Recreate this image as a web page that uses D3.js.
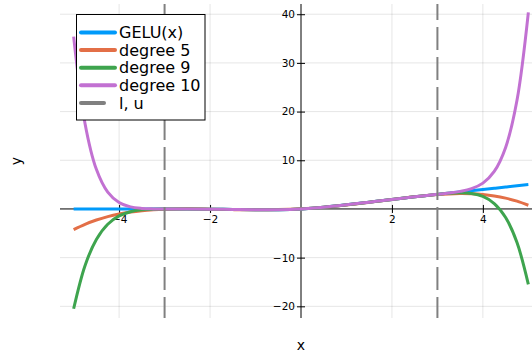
<!DOCTYPE html>
<html>
<head>
<meta charset="utf-8">
<script src="https://cdn.jsdelivr.net/npm/d3@7"></script>
<style>
  html, body { margin: 0; padding: 0; background: #fff; }
  svg { display: block; }
</style>
</head>
<body>
<svg id="chart" width="532" height="356"></svg>
<script>
// ---- data ----
const xValues = [-5,-4.75,-4.5,-4.25,-4,-3.75,-3.5,-3.25,-3,-2.5,-2,-1.5,-1,-0.5,0,
                 0.5,1,1.5,2,2.5,3,3.25,3.5,3.75,4,4.25,4.5,4.75,5];
const geluValues = [0,0,0,-0.0001,-0.0001,-0.0003,-0.0008,-0.0019,-0.0040,-0.0155,-0.0455,-0.1002,-0.1587,-0.1543,0,
                    0.3457,0.8413,1.3998,1.9545,2.4845,2.9960,3.2481,3.4992,3.7497,3.9999,4.25,4.5,4.75,5.0];
const degree5Values = [-4.2355,-3.1513,-2.2732,-1.5766,-1.0379,-0.6350,-0.3472,-0.1550,-0.0404,0.0219,-0.0425,-0.1370,-0.1867,-0.1380,0.0414,
                       0.3620,0.8133,1.3630,1.9575,2.5219,2.9597,3.0950,3.1528,3.1150,2.9621,2.6734,2.2268,1.5987,0.7645];
const degree9Values = [-20.5057,-11.6552,-6.2613,-3.1319,-1.4261,-0.5694,-0.1860,-0.0427,-0.0059,-0.0169,-0.0451,-0.0988,-0.1603,-0.1547,0.0019,
                       0.3453,0.8397,1.4012,1.9549,2.4831,2.9941,3.2073,3.3140,3.1806,2.5739,1.1181,-1.7613,-6.9052,-15.5057];
const degree10Values = [35.3959,17.5719,8.1407,3.4568,1.3088,0.4219,0.1055,0.0148,-0.0037,-0.0152,-0.0458,-0.0999,-0.1588,-0.1545,0.0003,
                        0.3456,0.8412,1.4001,1.9542,2.4848,2.9963,3.2648,3.6055,4.1719,5.3088,7.7068,12.6407,22.3219,40.3959];
const boundValues = [-3, 3];
const seriesNames = ["GELU(x)", "degree 5", "degree 9", "degree 10"];
const boundName = "l, u";
const xTickValues = [-4, -2, 2, 4];
const yTickValues = [-20, -10, 10, 20, 30, 40];
const xDomain = [-5.3, 5.3];
const yDomain = [-22.4, 42.1];

// ---- layout ----
const colors = ["#009AFA", "#E36F47", "#3EA44E", "#C271D2"];
const svg = d3.select("#chart");
const W = 532, H = 356;
const plotLeft = 60, plotRight = 542, plotTop = 4, plotBottom = 318;
const font = "'DejaVu Sans', sans-serif";

const x = d3.scaleLinear().domain(xDomain).range([plotLeft, plotRight]);
const y = d3.scaleLinear().domain(yDomain).range([plotBottom, plotTop]);

svg.append("rect").attr("width", W).attr("height", H).attr("fill", "#fff");

// grid
const grid = svg.append("g");
grid.selectAll("line.gx").data(xTickValues).join("line")
  .attr("x1", d => x(d)).attr("x2", d => x(d))
  .attr("y1", plotTop).attr("y2", plotBottom)
  .attr("stroke", "#000").attr("stroke-opacity", 0.1).attr("stroke-width", 1);
grid.selectAll("line.gy").data(yTickValues).join("line")
  .attr("x1", plotLeft).attr("x2", plotRight)
  .attr("y1", d => y(d)).attr("y2", d => y(d))
  .attr("stroke", "#000").attr("stroke-opacity", 0.1).attr("stroke-width", 1);

// axes through the origin
const xAxisG = svg.append("g").attr("transform", `translate(0,${y(0)})`)
  .call(d3.axisBottom(x).tickValues(xTickValues).tickSize(4).tickPadding(3).tickFormat(d3.format("d")));
const yAxisG = svg.append("g").attr("transform", `translate(${x(0)},0)`)
  .call(d3.axisLeft(y).tickValues(yTickValues).tickSize(4).tickPadding(2).tickFormat(d3.format("d")));
[xAxisG, yAxisG].forEach(g => {
  g.select(".domain").remove();
  g.attr("font-family", font).attr("font-size", 10.5);
  g.selectAll("text").attr("fill", "#000");
  g.selectAll(".tick line").attr("stroke", "#000");
});
xAxisG.selectAll(".tick line").attr("y1", -4).attr("y2", 4);
yAxisG.selectAll(".tick line").attr("x1", -4).attr("x2", 4);

svg.append("line").attr("x1", plotLeft).attr("x2", plotRight)
  .attr("y1", y(0)).attr("y2", y(0)).attr("stroke", "#000").attr("stroke-width", 1);
svg.append("line").attr("x1", x(0)).attr("x2", x(0))
  .attr("y1", plotTop).attr("y2", plotBottom).attr("stroke", "#000").attr("stroke-width", 1);

// curves
const allSeries = [geluValues, degree5Values, degree9Values, degree10Values];
const line = d3.line()
  .x((d, i) => x(xValues[i]))
  .y(d => y(d))
  .curve(d3.curveCatmullRom.alpha(0.5));
allSeries.forEach((vals, k) => {
  svg.append("path").datum(vals)
    .attr("d", line)
    .attr("fill", "none")
    .attr("stroke", colors[k])
    .attr("stroke-width", 3)
    .attr("stroke-linejoin", "round");
});

// l, u dashed lines
svg.selectAll("line.bound").data(boundValues).join("line")
  .attr("x1", d => x(d)).attr("x2", d => x(d))
  .attr("y1", plotTop).attr("y2", plotBottom)
  .attr("stroke", "#808080").attr("stroke-width", 2)
  .attr("stroke-dasharray", "23,7").attr("stroke-dashoffset", 7);

// axis titles
svg.append("text").attr("x", x(0)).attr("y", 350)
  .attr("text-anchor", "middle").attr("font-family", font).attr("font-size", 14)
  .text("x");
svg.append("text")
  .attr("transform", `translate(21,${(plotTop + plotBottom) / 2}) rotate(-90)`)
  .attr("text-anchor", "middle").attr("font-family", font).attr("font-size", 14)
  .text("y");

// legend
const lg = svg.append("g");
lg.append("rect").attr("x", 76.5).attr("y", 14.5).attr("width", 128.5).attr("height", 105.5)
  .attr("fill", "#fff").attr("stroke", "#000").attr("stroke-width", 1);
const rowY = i => 32.5 + i * 17.6;
const legendItems = seriesNames.map((n, i) => ({ name: n, color: colors[i], len: 34 }))
  .concat([{ name: boundName, color: "#808080", len: 23 }]);
legendItems.forEach((it, i) => {
  lg.append("line").attr("x1", 81).attr("x2", 81 + it.len)
    .attr("y1", rowY(i)).attr("y2", rowY(i))
    .attr("stroke", it.color).attr("stroke-width", 4).attr("stroke-linecap", "round");
  lg.append("text").attr("x", 119).attr("y", rowY(i) + 5.7)
    .attr("font-family", font).attr("font-size", 16).attr("fill", "#000")
    .text(it.name);
});
</script>
</body>
</html>
